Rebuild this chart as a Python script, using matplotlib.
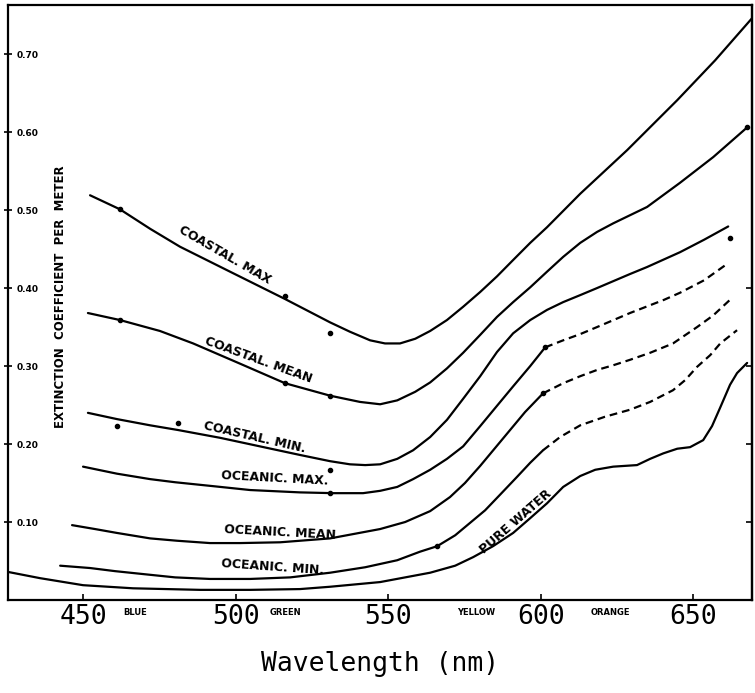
import matplotlib
matplotlib.use("Agg")
import matplotlib.pyplot as plt
import matplotlib.transforms as mtransforms

# ---------------- data ----------------
coastal_max_wl = [452.3, 462.1, 472.0, 481.8, 498.2, 516.2, 531.0, 537.5, 544.1, 549.0, 553.9, 558.9, 563.8,
                  569.3, 574.6, 580.2, 585.7, 591.0, 596.6, 602.1, 613.0, 628.4, 644.8, 657.2, 669.3]
coastal_max_v = [0.519, 0.501, 0.476, 0.453, 0.421, 0.386, 0.356, 0.344, 0.333, 0.329, 0.329, 0.335, 0.345,
                 0.359, 0.376, 0.395, 0.415, 0.436, 0.458, 0.478, 0.521, 0.577, 0.641, 0.692, 0.746]

coastal_mean_wl = [451.6, 462.1, 475.2, 486.1, 501.5, 516.2, 531.0, 540.8, 547.4, 553.0, 558.9, 563.8, 569.3,
                   574.6, 580.2, 585.7, 591.0, 596.6, 602.1, 607.4, 613.0, 618.5, 623.8, 634.9, 645.7, 656.6, 667.7]
coastal_mean_v = [0.368, 0.359, 0.345, 0.329, 0.303, 0.278, 0.262, 0.254, 0.251, 0.256, 0.267, 0.279, 0.297,
                  0.317, 0.340, 0.363, 0.382, 0.401, 0.421, 0.440, 0.458, 0.472, 0.483, 0.504, 0.535, 0.568, 0.606]

coastal_min_wl = [451.6, 461.1, 472.0, 481.1, 494.9, 508.0, 521.1, 531.0, 537.5, 542.5, 547.4, 553.0, 558.2, 563.8,
                  569.3, 574.6, 580.2, 585.7, 591.0, 596.6, 602.1, 607.4, 613.0, 618.5, 629.3, 634.9, 645.7, 653.6, 661.5]
coastal_min_v = [0.240, 0.232, 0.224, 0.218, 0.208, 0.197, 0.186, 0.178, 0.174, 0.173, 0.174, 0.181, 0.192, 0.209,
                 0.231, 0.258, 0.287, 0.318, 0.342, 0.359, 0.372, 0.382, 0.391, 0.400, 0.418, 0.427, 0.446, 0.462, 0.479]

oceanic_max_wl = [450.0, 461.1, 472.0, 480.2, 492.6, 504.8, 521.1, 532.0, 541.8, 547.4, 553.0, 558.2, 563.8,
                  569.3, 574.6, 580.2, 585.7, 591.0, 596.6, 601.5]
oceanic_max_v = [0.171, 0.162, 0.155, 0.151, 0.146, 0.141, 0.138, 0.137, 0.137, 0.140, 0.145, 0.155, 0.167,
                 0.181, 0.197, 0.223, 0.249, 0.274, 0.300, 0.324]
oceanic_max_ext_wl = [601.5, 607.4, 613.0, 618.5, 629.3, 640.5, 645.7, 653.6, 661.5]
oceanic_max_ext_v = [0.324, 0.333, 0.341, 0.350, 0.368, 0.385, 0.394, 0.410, 0.432]

oceanic_mean_wl = [446.4, 453.9, 461.1, 472.0, 480.8, 491.6, 501.5, 514.6, 531.0, 539.2, 547.4, 555.6, 563.8,
                   570.3, 575.2, 580.2, 585.1, 590.0, 594.9, 600.8]
oceanic_mean_v = [0.096, 0.091, 0.086, 0.079, 0.076, 0.073, 0.073, 0.074, 0.079, 0.085, 0.091, 0.100, 0.114,
                  0.132, 0.150, 0.172, 0.195, 0.218, 0.241, 0.265]
oceanic_mean_ext_wl = [600.8, 607.4, 613.0, 618.5, 623.8, 629.3, 635.9, 643.4, 651.3, 656.6, 662.1]
oceanic_mean_ext_v = [0.265, 0.278, 0.287, 0.295, 0.301, 0.308, 0.317, 0.329, 0.350, 0.365, 0.385]

oceanic_min_wl = [442.5, 452.3, 460.5, 470.3, 480.2, 491.6, 504.8, 517.9, 531.0, 542.5, 553.0, 560.5, 566.1,
                  572.0, 576.9, 581.8, 586.7, 592.3, 596.6, 600.8]
oceanic_min_v = [0.044, 0.041, 0.037, 0.033, 0.029, 0.027, 0.027, 0.029, 0.035, 0.042, 0.051, 0.062, 0.069,
                 0.083, 0.099, 0.115, 0.135, 0.158, 0.176, 0.192]
oceanic_min_ext_wl = [600.8, 606.4, 613.0, 621.1, 629.3, 635.9, 643.4, 647.4, 651.3, 655.6, 658.9, 664.4]
oceanic_min_ext_v = [0.192, 0.209, 0.224, 0.235, 0.244, 0.254, 0.269, 0.282, 0.299, 0.314, 0.329, 0.346]

pure_water_wl = [425.4, 435.9, 450.0, 466.4, 488.4, 504.8, 521.1, 531.0, 547.4, 563.8, 572.0, 577.9, 584.4,
                 591.0, 596.6, 602.1, 607.4, 613.0, 617.9, 623.8, 631.6, 635.9, 640.2, 644.8, 649.0, 653.3,
                 656.2, 658.9, 662.1, 664.4, 667.7]
pure_water_v = [0.036, 0.028, 0.019, 0.015, 0.013, 0.013, 0.014, 0.017, 0.023, 0.035, 0.044, 0.055, 0.069,
                0.086, 0.105, 0.124, 0.145, 0.159, 0.167, 0.171, 0.173, 0.181, 0.188, 0.194, 0.196, 0.205,
                0.223, 0.247, 0.276, 0.291, 0.304]

# observation dots
dot_wl = [462.1, 516.2, 531.0, 462.1, 516.2, 531.0, 461.0, 481.0, 531.0, 531.0, 566.1, 601.5, 600.8, 662.1, 667.7]
dot_v = [0.501, 0.390, 0.342, 0.359, 0.278, 0.262, 0.223, 0.227, 0.167, 0.137, 0.069, 0.324, 0.265, 0.464, 0.606]

curve_labels = ["COASTAL. MAX", "COASTAL. MEAN", "COASTAL. MIN.", "OCEANIC. MAX.",
                "OCEANIC. MEAN", "OCEANIC. MIN.", "PURE WATER"]
label_wl = [496.6, 507.4, 506.4, 513.0, 514.6, 512.3, 592.0]
label_v = [0.442, 0.308, 0.209, 0.156, 0.087, 0.042, 0.100]
label_rot = [-30, -20, -13, -3, -3, -4, 41]

x_ticks = [450, 500, 550, 600, 650]
y_ticks = [0.10, 0.20, 0.30, 0.40, 0.50, 0.60, 0.70]
y_tick_labels = ["0.10", "0.20", "0.30", "0.40", "0.50", "0.60", "0.70"]
right_ticks = [0.10, 0.20, 0.30, 0.40]
band_names = ["BLUE", "GREEN", "YELLOW", "ORANGE"]
band_wl = [467.0, 516.5, 579.0, 623.0]

# ---------------- figure ----------------
fig = plt.figure(figsize=(7.55, 6.93), dpi=100)
ax = fig.add_axes([8 / 755, 1 - 600 / 693, 744 / 755, 595 / 693])

lw = 1.6
solid = dict(color="black", lw=lw, solid_capstyle="round", solid_joinstyle="round")
dash = dict(color="black", lw=lw, linestyle=(0, (3.5, 2.2)))

ax.plot(coastal_max_wl, coastal_max_v, **solid)
ax.plot(coastal_mean_wl, coastal_mean_v, **solid)
ax.plot(coastal_min_wl, coastal_min_v, **solid)
ax.plot(oceanic_max_wl, oceanic_max_v, **solid)
ax.plot(oceanic_max_ext_wl, oceanic_max_ext_v, **dash)
ax.plot(oceanic_mean_wl, oceanic_mean_v, **solid)
ax.plot(oceanic_mean_ext_wl, oceanic_mean_ext_v, **dash)
ax.plot(oceanic_min_wl, oceanic_min_v, **solid)
ax.plot(oceanic_min_ext_wl, oceanic_min_ext_v, **dash)
ax.plot(pure_water_wl, pure_water_v, **solid)
ax.plot(dot_wl, dot_v, linestyle="none", marker="o", ms=3, color="black")

for t, xw, yv, r in zip(curve_labels, label_wl, label_v, label_rot):
    ax.text(xw, yv, t, rotation=r, rotation_mode="anchor", ha="center", va="center",
            fontsize=9, fontweight="bold", family="DejaVu Sans")

ax.set_xlim(425.4, 669.3)
ax.set_ylim(0.0, 0.763)

for s in ax.spines.values():
    s.set_linewidth(1.6)

ax.set_xticks(x_ticks)
ax.set_xticklabels([str(v) for v in x_ticks], family="DejaVu Sans Mono", fontsize=19)
ax.tick_params(axis="x", direction="in", length=4, width=1.2, pad=3)

ax.set_yticks(y_ticks)
ax.set_yticklabels(y_tick_labels, fontsize=6.5, fontweight="bold")
for lbl in ax.get_yticklabels():
    lbl.set_horizontalalignment("left")
ax.tick_params(axis="y", direction="inout", length=6, width=1.2, pad=-9)

sec = ax.secondary_yaxis("right")
sec.set_yticks(right_ticks)
sec.set_yticklabels([])
sec.tick_params(direction="in", length=4, width=1.2)
sec.spines["right"].set_linewidth(1.6)

ax.text(0.07, 0.51, "EXTINCTION  COEFFICIENT  PER  METER", transform=ax.transAxes,
        rotation=90, ha="center", va="center", fontsize=8.5, fontweight="bold")

trans = mtransforms.blended_transform_factory(ax.transData, ax.transAxes)
for name, xw in zip(band_names, band_wl):
    ax.text(xw, -0.013, name, transform=trans, ha="center", va="top",
            fontsize=6, fontweight="bold")

ax.set_xlabel("Wavelength (nm)", family="DejaVu Sans Mono", fontsize=19, labelpad=15)

fig.savefig("out.png", dpi=100)
